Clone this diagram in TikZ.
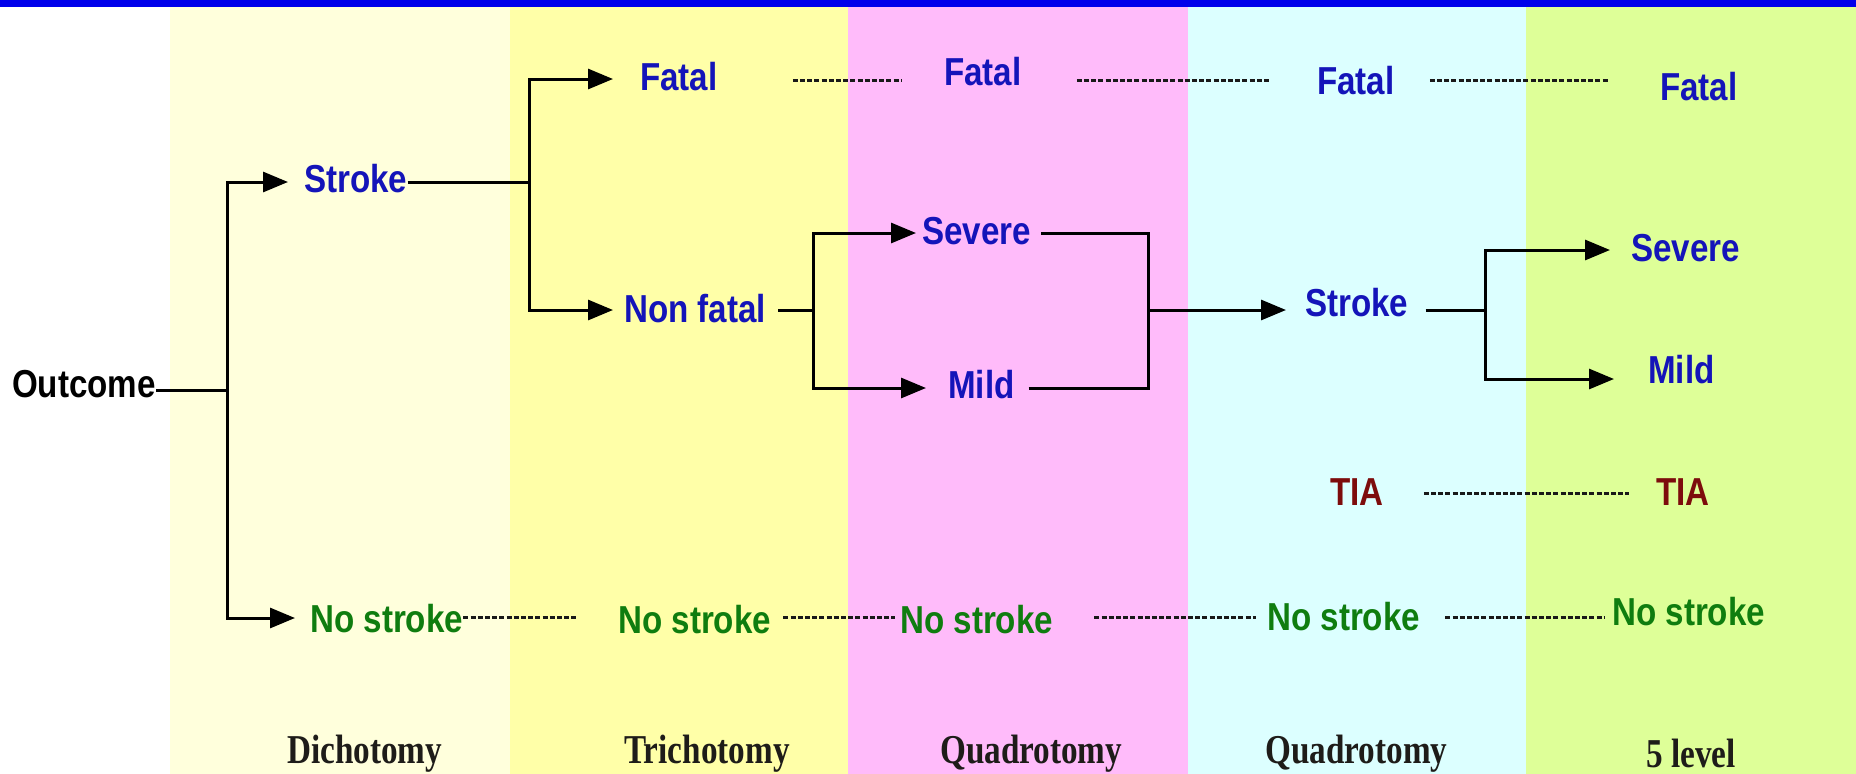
\documentclass[tikz,border=0pt]{standalone}
\usepackage{fontspec}
\newfontfamily\sansb[FakeStretch=0.85]{Liberation Sans}
\newfontfamily\serb[FakeStretch=0.81]{Liberation Serif}
\usetikzlibrary{arrows.meta,calc}
\definecolor{bandA}{RGB}{255,255,220}
\definecolor{bandB}{RGB}{255,255,168}
\definecolor{bandC}{RGB}{255,187,250}
\definecolor{bandD}{RGB}{220,255,255}
\definecolor{bandE}{RGB}{222,255,152}
\definecolor{topbar}{RGB}{0,0,235}
\definecolor{txtblue}{RGB}{20,20,185}
\definecolor{txtgreen}{RGB}{15,125,15}
\definecolor{txtred}{RGB}{125,12,12}
\definecolor{txtdark}{RGB}{30,28,25}
\begin{document}
\begin{tikzpicture}[x=1pt,y=-1pt,
  lab/.style={font=\sansb\bfseries\fontsize{39}{39}\selectfont, inner sep=0pt, anchor=base west},
  bl/.style={lab, text=txtblue},
  gr/.style={lab, text=txtgreen},
  rd/.style={lab, text=txtred},
  cat/.style={font=\serb\bfseries\fontsize{41}{41}\selectfont, inner sep=0pt, anchor=base west, text=txtdark},
  ln/.style={line width=3pt, draw=black},
  arr/.style={ln, -{Triangle[length=25pt,width=20pt]}},
  dotl/.style={line width=3pt, draw=black!90, dash pattern=on 5pt off 2.2pt},
]
\useasboundingbox (0,0) rectangle (1856,774);
% backgrounds
\fill[white] (0,0) rectangle (1856,774);
\fill[bandA] (170,6) rectangle (510,774);
\fill[bandB] (510,6) rectangle (848,774);
\fill[bandC] (848,6) rectangle (1188,774);
\fill[bandD] (1188,6) rectangle (1526,774);
\fill[bandE] (1526,6) rectangle (1856,774);
\fill[topbar] (0,0) rectangle (1856,7);

% text nodes
\node[lab] (outcome) at (12,397) {Outcome};
\node[bl] (stroke1) at (304,192) {Stroke};
\node[gr] (nostroke1) at (310,632) {No stroke};
\node[bl] (fatal2) at (640,90) {Fatal};
\node[bl] (nonfatal) at (624,322) {Non fatal};
\node[gr] (nostroke2) at (618,633) {No stroke};
\node[bl] (fatal3) at (944,85) {Fatal};
\node[bl] (severe3) at (922,244) {Severe};
\node[bl] (mild3) at (948,398) {Mild};
\node[gr] (nostroke3) at (900,633) {No stroke};
\node[bl] (fatal4) at (1317,94) {Fatal};
\node[bl] (stroke4) at (1305,316) {Stroke};
\node[rd] (tia4) at (1330,505) {TIA};
\node[gr] (nostroke4) at (1267,630) {No stroke};
\node[bl] (fatal5) at (1660,100) {Fatal};
\node[bl] (severe5) at (1631,261) {Severe};
\node[bl] (mild5) at (1648,383) {Mild};
\node[rd] (tia5) at (1656,505) {TIA};
\node[gr] (nostroke5) at (1612,625) {No stroke};

\node[cat] (cat1) at (287,763) {Dichotomy};
\node[cat] (cat2) at (624,763) {Trichotomy};
\node[cat] (cat3) at (940,763) {Quadrotomy};
\node[cat] (cat4) at (1265,763) {Quadrotomy};
\node[cat] (cat5) at (1646,767) {5 level};

% junction coordinates
\coordinate (j1t) at (227,182); \coordinate (j1b) at (227,618); \coordinate (j1m) at (227,390);
\coordinate (j2t) at (529,79);  \coordinate (j2b) at (529,310); \coordinate (j2m) at (529,182);
\coordinate (j3t) at (813,233); \coordinate (j3b) at (813,388); \coordinate (j3m) at (813,310);
\coordinate (j4t) at (1148,233); \coordinate (j4b) at (1148,388); \coordinate (j4m) at (1148,310);
\coordinate (j5t) at (1485,250); \coordinate (j5b) at (1485,379); \coordinate (j5m) at (1485,310);
\coordinate (yF) at (0,80); \coordinate (yT) at (0,493); \coordinate (yN) at (0,617);

% tree 1
\draw[ln] (outcome.east |- j1m) -- (j1m);
\draw[arr, shorten >=16pt] (j1m) |- (j1t -| stroke1.west);
\draw[arr, shorten >=15pt] (j1m) |- (j1b -| nostroke1.west);
% tree 2
\draw[ln] (stroke1.east |- j2m) -- (j2m);
\draw[arr, shorten >=27pt] (j2m) |- (j2t -| fatal2.west);
\draw[arr, shorten >=11pt] (j2m) |- (j2b -| nonfatal.west);
% tree 3
\draw[ln, shorten <=12pt] (nonfatal.east |- j3m) -- (j3m);
\draw[arr, shorten >=6pt] (j3m) |- (j3t -| severe3.west);
\draw[arr, shorten >=22pt] (j3m) |- (j3b -| mild3.west);
% tree 4 (merge)
\draw[ln, shorten <=10pt] (severe3.east |- j4t) -| (j4m);
\draw[ln, shorten <=14pt] (mild3.east |- j4b) -| (j4m);
\draw[arr, shorten >=19pt] (j4m) -- (j4m -| stroke4.west);
% tree 5
\draw[ln, shorten <=17pt] (stroke4.east |- j5m) -- (j5m);
\draw[arr, shorten >=21pt] (j5m) |- (j5t -| severe5.west);
\draw[arr, shorten >=34pt] (j5m) |- (j5b -| mild5.west);

% dotted links
\draw[dotl, shorten <=75pt, shorten >=42pt] (fatal2.east |- yF) -- (fatal3.west |- yF);
\draw[dotl, shorten <=55pt, shorten >=48pt] (fatal3.east |- yF) -- (fatal4.west |- yF);
\draw[dotl, shorten <=35pt, shorten >=52pt] (fatal4.east |- yF) -- (fatal5.west |- yF);
\draw[dotl, shorten <=40pt, shorten >=27pt] (tia4.east |- yT) -- (tia5.west |- yT);
\draw[dotl, shorten >=41pt] (nostroke1.east |- yN) -- (nostroke2.west |- yN);
\draw[dotl, shorten <=12pt, shorten >=5pt] (nostroke2.east |- yN) -- (nostroke3.west |- yN);
\draw[dotl, shorten <=41pt, shorten >=11pt] (nostroke3.east |- yN) -- (nostroke4.west |- yN);
\draw[dotl, shorten <=25pt, shorten >=8pt] (nostroke4.east |- yN) -- (nostroke5.west |- yN);
\end{tikzpicture}
\end{document}
